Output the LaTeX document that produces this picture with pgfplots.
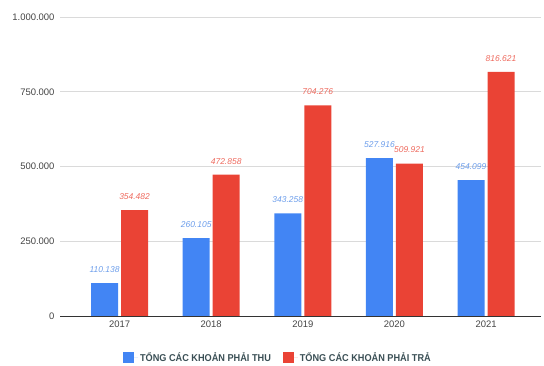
\documentclass[border=0pt]{standalone}
\usepackage{graphicx}
\usepackage{pgfplots}
\pgfplotsset{compat=1.18}
\usepackage{fontspec}
\setmainfont{Liberation Sans}

\definecolor{barblue}{HTML}{4285F4}
\definecolor{barred}{HTML}{EA4335}
\definecolor{lblblue}{HTML}{6D9EEB}
\definecolor{lblred}{HTML}{EE6A5E}
\definecolor{gridgray}{HTML}{DADADA}
\definecolor{ticktext}{HTML}{444444}
\definecolor{basecol}{HTML}{333333}
\definecolor{legtext}{HTML}{3A4F55}

\newcommand{\legtxt}[1]{\scalebox{0.92}[1]{\bfseries #1}}

\begin{document}
\begin{tikzpicture}[x=1bp,y=1bp]
\useasboundingbox (0,0) rectangle (544,365);
\begin{axis}[
  at={(60bp,49bp)}, anchor=south west,
  scale only axis, width=481bp, height=299bp,
  xmin=-0.65, xmax=4.6, ymin=0, ymax=1000000,
  axis line style={draw=none},
  tick style={draw=none}, major tick length=0pt,
  ytick={0,250000,500000,750000,1000000},
  yticklabels={0,250.000,500.000,750.000,1.000.000},
  xtick={0,1,2,3,4},
  xticklabels={2017,2018,2019,2020,2021},
  ymajorgrids,
  grid style={draw=gridgray, line width=0.8bp},
  yticklabel style={font=\fontsize{9.5}{11}\selectfont, color=ticktext, xshift=-2bp},
  xticklabel style={font=\fontsize{9.5}{11}\selectfont, color=ticktext, yshift=-1bp},
  scaled y ticks=false,
  clip=false,
  legend columns=2,
  legend style={draw=none, fill=none, at={(0.453,-0.14)}, anchor=center,
    font=\fontsize{10}{12}\selectfont, text=legtext,
    /tikz/every even column/.append style={column sep=10bp}},
  legend image code/.code={\fill[#1] (0bp,-5bp) rectangle (11bp,6bp); \path (0bp,0bp) -- (15bp,0bp);},
  nodes near coords style={font=\fontsize{8.5}{10}\selectfont\itshape, anchor=south, yshift=7bp},
]
% receivables
\addplot[ybar, bar width=27bp, bar shift=-15bp, fill=barblue, draw=none,
  nodes near coords, point meta=explicit symbolic,
  every node near coord/.append style={text=lblblue, xshift=-15bp}]
  coordinates {
    (0,110138) [110.138]
    (1,260105) [260.105]
    (2,343258) [343.258]
    (3,527916) [527.916]
    (4,454099) [454.099]
  };
\addlegendentry{\legtxt{TỔNG CÁC KHOẢN PHẢI THU}}
% payables
\addplot[ybar, bar width=27bp, bar shift=15bp, fill=barred, draw=none,
  nodes near coords, point meta=explicit symbolic,
  every node near coord/.append style={text=lblred, xshift=15bp}]
  coordinates {
    (0,354482) [354.482]
    (1,472858) [472.858]
    (2,704276) [704.276]
    (3,509921) [509.921]
    (4,816621) [816.621]
  };
\addlegendentry{\legtxt{TỔNG CÁC KHOẢN PHẢI TRẢ}}
\draw[basecol, line width=0.9bp] (axis cs:-0.65,0) -- (axis cs:4.6,0);
\end{axis}
\end{tikzpicture}
\end{document}
